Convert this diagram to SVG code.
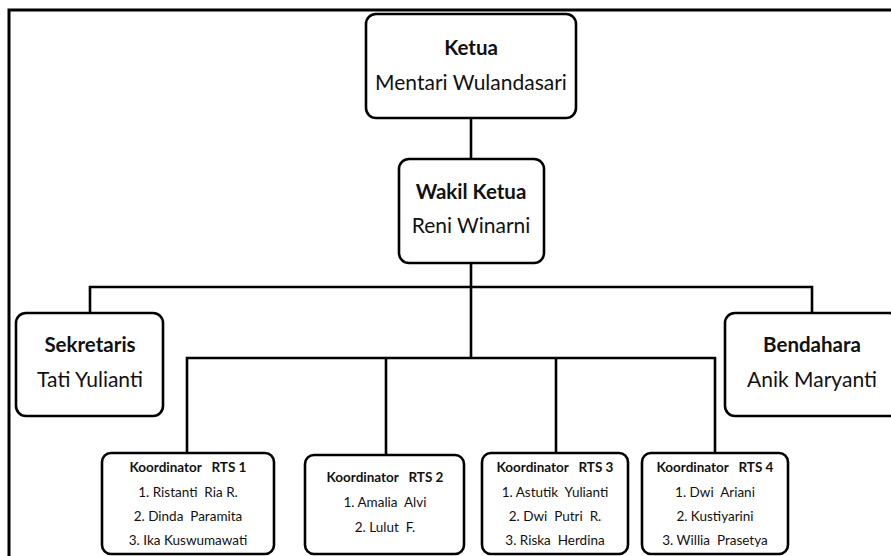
<svg xmlns="http://www.w3.org/2000/svg" width="891" height="556" viewBox="0 0 891 556">
<style>
.box{fill:#fff;stroke:#000;stroke-width:2.6}
.conn{fill:none;stroke:#000;stroke-width:2.6}
text{font-family:Lato,"Open Sans","Liberation Sans",sans-serif;fill:#111;text-anchor:middle;white-space:pre}
.t{font-size:20.5px;font-weight:bold}
.n{font-size:21px}
.kh{font-size:13.5px;font-weight:bold}
.ki{font-size:13.5px}
</style>
<rect x="0" y="0" width="891" height="556" fill="#fff"/>
<rect x="9" y="10" width="900" height="560" fill="none" stroke="#000" stroke-width="3"/>
<g id="connectors">
<path class="conn" d="M471,118 V159"/>
<path class="conn" d="M471,263 V358"/>
<path class="conn" d="M90,313 V287 H812 V313"/>
<path class="conn" d="M187,453 V358 H715 V453"/>
<path class="conn" d="M386,455 V358"/>
<path class="conn" d="M556,453 V358"/>
</g>
<g id="ketua">
<rect class="box" x="366" y="14" width="210" height="104" rx="10"/>
<text class="t" x="471" y="55">Ketua</text>
<text class="n" x="471" y="90">Mentari Wulandasari</text>
</g>
<g id="wakil">
<rect class="box" x="399" y="159" width="145" height="104" rx="10"/>
<text class="t" x="471" y="199">Wakil Ketua</text>
<text class="n" x="471" y="233">Reni Winarni</text>
</g>
<g id="sekretaris">
<rect class="box" x="16" y="313" width="147" height="103" rx="10"/>
<text class="t" x="90" y="352">Sekretaris</text>
<text class="n" x="90" y="387">Tati Yulianti</text>
</g>
<g id="bendahara">
<rect class="box" x="725" y="313" width="174" height="103" rx="10"/>
<text class="t" x="812" y="352">Bendahara</text>
<text class="n" x="812" y="387">Anik Maryanti</text>
</g>
<g id="rts1">
<rect class="box" x="102" y="453" width="172" height="101" rx="9"/>
<text class="kh" x="188" y="472" xml:space="preserve">Koordinator   RTS 1</text>
<text class="ki" x="188" y="497" xml:space="preserve">1. Ristanti  Ria R.</text>
<text class="ki" x="188" y="521" xml:space="preserve">2. Dinda  Paramita</text>
<text class="ki" x="188" y="545">3. Ika Kuswumawati</text>
</g>
<g id="rts2">
<rect class="box" x="305" y="455" width="159" height="99" rx="9"/>
<text class="kh" x="385" y="482" xml:space="preserve">Koordinator   RTS 2</text>
<text class="ki" x="385" y="507" xml:space="preserve">1. Amalia  Alvi</text>
<text class="ki" x="385" y="532" xml:space="preserve">2. Lulut  F.</text>
</g>
<g id="rts3">
<rect class="box" x="482" y="453" width="146" height="101" rx="9"/>
<text class="kh" x="555" y="472" xml:space="preserve">Koordinator   RTS 3</text>
<text class="ki" x="555" y="497" xml:space="preserve">1. Astutik  Yulianti</text>
<text class="ki" x="555" y="521" xml:space="preserve">2. Dwi  Putri  R.</text>
<text class="ki" x="555" y="545" xml:space="preserve">3. Riska  Herdina</text>
</g>
<g id="rts4">
<rect class="box" x="642" y="453" width="146" height="101" rx="9"/>
<text class="kh" x="715" y="472" xml:space="preserve">Koordinator   RTS 4</text>
<text class="ki" x="715" y="497" xml:space="preserve">1. Dwi  Ariani</text>
<text class="ki" x="715" y="521">2. Kustiyarini</text>
<text class="ki" x="715" y="545" xml:space="preserve">3. Willia  Prasetya</text>
</g>
</svg>
